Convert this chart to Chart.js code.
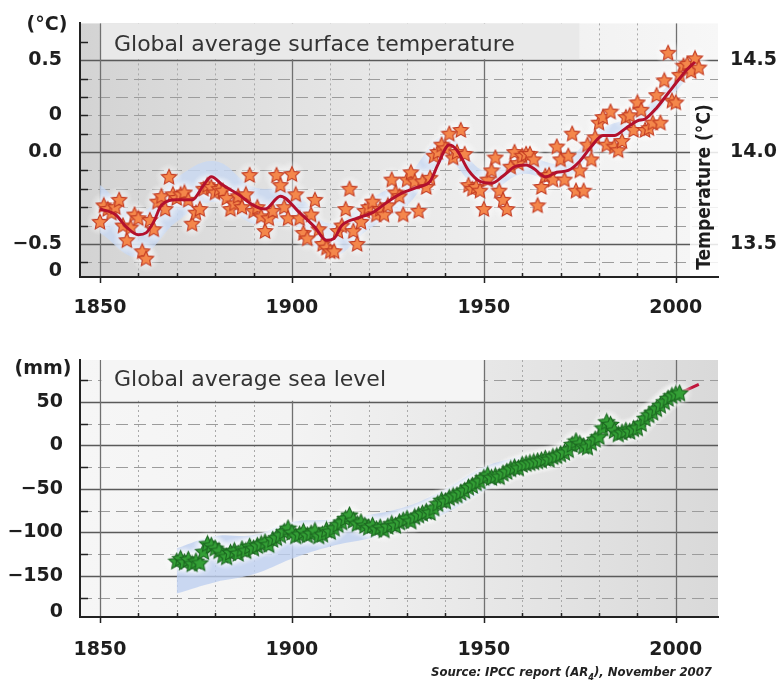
<!DOCTYPE html>
<html>
<head>
<meta charset="utf-8">
<script src="https://cdn.jsdelivr.net/npm/chart.js@4.4.1/dist/chart.umd.min.js"></script>
<style>
  body { margin: 0; background: #fff; width: 781px; height: 689px; position: relative; overflow: hidden; }
  #tempChart { position: absolute; left: 0; top: 0; }
  #seaChart { position: absolute; left: 0; top: 330px; }
  #source { position: absolute; right: 69px; top: 664px; font: italic bold 13px "DejaVu Sans Condensed"; color: #222; white-space: nowrap; }
  #source sub { font-size: 9px; }
</style>
</head>
<body>
<canvas id="tempChart" width="781" height="330"></canvas>
<canvas id="seaChart" width="781" height="359"></canvas>
<div id="source">Source: IPCC report (AR<sub>4</sub>), November 2007</div>
<script>
// global average surface temperature, annual anomaly (°C), 1850 - 2006
const tempAnomaly = [
  -0.38, -0.29, -0.31, -0.33, -0.30, -0.26, -0.40, -0.48, -0.41, -0.34,
  -0.36, -0.54, -0.58, -0.37, -0.42, -0.27, -0.24, -0.31, -0.135, -0.23,
  -0.25, -0.23, -0.22, -0.26, -0.39, -0.33, -0.31, -0.20, -0.18, -0.19,
  -0.22, -0.20, -0.21, -0.25, -0.31, -0.28, -0.24, -0.30, -0.23, -0.125,
  -0.32, -0.30, -0.35, -0.43, -0.36, -0.32, -0.125, -0.18, -0.30, -0.36,
  -0.12, -0.23, -0.36, -0.44, -0.47, -0.34, -0.26, -0.42, -0.50, -0.52,
  -0.54, -0.54, -0.43, -0.40, -0.31, -0.20, -0.43, -0.50, -0.38, -0.32,
  -0.30, -0.27, -0.34, -0.31, -0.34, -0.29, -0.15, -0.22, -0.24, -0.34,
  -0.15, -0.11, -0.16, -0.32, -0.16, -0.19, -0.14, -0.02, 0.00, 0.04,
  0.02, 0.10, -0.03, 0.00, 0.12, -0.01, -0.18, -0.20, -0.19, -0.21,
  -0.31, -0.15, -0.10, -0.03, -0.21, -0.26, -0.31, -0.08, 0.00, -0.06,
  -0.02, -0.01, -0.01, -0.04, -0.29, -0.19, -0.13, -0.125, -0.15, 0.03,
  -0.04, -0.15, -0.02, 0.10, -0.21, -0.10, -0.21, 0.04, -0.04, 0.08,
  0.16, 0.19, 0.04, 0.22, 0.03, 0.01, 0.06, 0.19, 0.20, 0.12,
  0.27, 0.23, 0.12, 0.13, 0.16, 0.31, 0.16, 0.39, 0.54, 0.28,
  0.27, 0.42, 0.47, 0.48, 0.44, 0.51, 0.46
];
const tempYears = tempAnomaly.map((v, i) => 1850 + i);

// smoothed (decadal) curve
const tempSmoothYears = [1850, 1854, 1857, 1860, 1862, 1864, 1866, 1870, 1874, 1877,
  1879, 1882, 1886, 1890, 1893, 1897, 1902, 1906, 1909, 1911,
  1913, 1917, 1921, 1925, 1929, 1933, 1936, 1938, 1941, 1943,
  1946, 1949, 1952, 1955, 1958, 1961, 1963, 1966, 1969, 1972,
  1975, 1978, 1981, 1984, 1987, 1990, 1992, 1995, 1998, 2001,
  2003, 2005];
const tempSmooth = [-0.31, -0.34, -0.41, -0.45, -0.44, -0.38, -0.29, -0.26, -0.26, -0.18,
  -0.135, -0.18, -0.23, -0.29, -0.31, -0.24, -0.33, -0.41, -0.48, -0.47,
  -0.40, -0.36, -0.33, -0.27, -0.22, -0.19, -0.16, -0.07, 0.04, 0.01,
  -0.10, -0.16, -0.17, -0.13, -0.08, -0.07, -0.09, -0.135, -0.11, -0.10,
  -0.05, 0.03, 0.09, 0.09, 0.13, 0.17, 0.18, 0.24, 0.32, 0.40,
  0.45, 0.49];

// uncertainty range
const tempBandYears = [1850, 1860, 1870, 1880, 1890, 1900, 1910, 1920, 1930, 1940, 1950, 1960, 1970, 1980, 1990, 2000, 2005];
const tempBandHigh = [-0.18, -0.33, -0.14, -0.05, -0.19, -0.21, -0.39, -0.26, -0.13, 0.09, -0.10, -0.02, -0.06, 0.12, 0.21, 0.41, 0.53];
const tempBandLow = [-0.44, -0.57, -0.38, -0.27, -0.39, -0.39, -0.57, -0.42, -0.29, -0.05, -0.22, -0.12, -0.16, 0.02, 0.13, 0.33, 0.45];

const tempTickVals = [0.5, 0.2, 0, -0.5, -0.65];
const tempTickText = ['0.5', '0', '0.0', '\u22120.5', '0'];
const tempRightVals = [14.5, 14.0, 13.5];

// global average sea level (mm), 1870 - 2001
const seaLevel = [
  -133, -130, -134, -131, -136, -133, -135, -122, -113, -115,
  -118, -121, -126, -128, -123, -121, -124, -119, -121, -116,
  -118, -115, -113, -111, -114, -108, -106, -103, -99, -95,
  -100, -104, -102, -99, -103, -101, -98, -104, -102, -97,
  -99, -95, -91, -88, -84, -80, -86, -90, -88, -92,
  -94, -92, -96, -94, -97, -93, -90, -92, -88, -86,
  -84, -87, -82, -80, -78, -76, -77, -72, -67, -63,
  -64, -60, -58, -57, -54, -52, -48, -46, -43, -41,
  -37, -34, -37, -35, -36, -32, -30, -27, -25, -26,
  -22, -21, -20, -19, -18, -17, -15, -16, -13, -12,
  -10, -8, -5, 1, 5, 2, -1, -2, 3, 7,
  10, 20, 27, 24, 17, 13, 15, 17, 16, 19,
  20, 25, 31, 35, 38, 42, 46, 50, 54, 57,
  59, 60
];
const seaYears = seaLevel.map((v, i) => 1870 + i);

// satellite altimetry
const satYears = [1993, 1994, 1995, 1996, 1997, 1998, 1999, 2000, 2001, 2002, 2003, 2004, 2005, 2006];
const satLevel = [34, 37, 40, 44, 47, 51, 54, 57, 60, 62, 64, 66, 68, 70];

const seaBandYears = [1870, 1880, 1890, 1900, 1910, 1920, 1930, 1940, 1950, 1960];
const seaBandHigh = [-118, -104, -103, -88, -85, -80, -70, -50, -25, -12];
const seaBandLow = [-170, -157, -148, -130, -116, -107, -95, -78, -52, -32];

const seaTickVals = [50, 0, -50, -100, -150, -191];
const seaTickText = ['50', '0', '\u221250', '\u2212100', '\u2212150', '0'];

const yearTicks = [1850, 1900, 1950, 2000];
const decades = [1860, 1870, 1880, 1890, 1910, 1920, 1930, 1940, 1960, 1970, 1980, 1990];

const pts = (xs, ys) => xs.map((x, i) => ({ x: x, y: ys[i] }));

function makeStar(size, fill, stroke) {
  const c = document.createElement('canvas');
  c.width = size; c.height = size;
  const g = c.getContext('2d');
  const m = size / 2, R = size / 2 - 1, r = R * 0.48;
  g.beginPath();
  for (let i = 0; i < 10; i++) {
    const a = -Math.PI / 2 + i * Math.PI / 5;
    const d = i % 2 === 0 ? R : r;
    g.lineTo(m + d * Math.cos(a), m + 0.5 + d * Math.sin(a));
  }
  g.closePath();
  g.fillStyle = fill;
  g.fill();
  g.lineWidth = 1.1;
  g.strokeStyle = stroke;
  g.stroke();
  return c;
}

function makeGlow(size, color) {
  const c = document.createElement('canvas');
  c.width = size; c.height = size;
  const g = c.getContext('2d');
  const r = size / 2;
  const grd = g.createRadialGradient(r, r, 0, r, r, r);
  grd.addColorStop(0, color);
  grd.addColorStop(0.5, color);
  grd.addColorStop(1, 'rgba(255,255,255,0)');
  g.fillStyle = grd;
  g.fillRect(0, 0, size, size);
  return c;
}

const tickFont = { family: 'DejaVu Sans', size: 19, weight: 'bold' };

// background, grid lines, titles
const frame = {
  id: 'frame',
  beforeDraw(chart, args, o) {
    const { ctx, chartArea: a } = chart;
    const x = chart.scales.x, y = chart.scales.y;
    const hline = (v, from, to) => {
      const py = Math.round(y.getPixelForValue(v)) + 0.5;
      ctx.beginPath(); ctx.moveTo(from, py); ctx.lineTo(to, py); ctx.stroke();
    };
    const vline = (yr, top) => {
      const px = Math.round(x.getPixelForValue(yr)) + 0.5;
      ctx.beginPath(); ctx.moveTo(px, top); ctx.lineTo(px, a.bottom); ctx.stroke();
    };
    ctx.save();
    const g = ctx.createLinearGradient(a.left, 0, a.right, 0);
    o.shade.forEach((c, i) => g.addColorStop(i / (o.shade.length - 1), c));
    ctx.fillStyle = g;
    ctx.fillRect(a.left, a.top, a.right - a.left, a.bottom - a.top);

    ctx.lineWidth = 1;
    ctx.strokeStyle = '#a9a9a9';
    ctx.setLineDash([2, 3]);
    decades.forEach(d => vline(d, a.top));

    ctx.strokeStyle = '#9c9c9c';
    ctx.setLineDash([12, 6]);
    o.minor.forEach(v => hline(v, a.left, a.right));

    ctx.setLineDash([]);
    ctx.strokeStyle = '#5a5a5a';
    ctx.lineWidth = 1.4;
    o.major.forEach(v => hline(v, a.left, a.right));
    ctx.strokeStyle = '#707070';
    ctx.lineWidth = 1.3;
    yearTicks.forEach(d => vline(d, a.top));

    // title box
    const bx0 = x.getPixelForValue(1850) + 1.5;
    const bx1 = x.getPixelForValue(o.boxEnd) - 0.5;
    const by1 = y.getPixelForValue(o.boxBottom) - 1;
    ctx.fillStyle = o.boxFill;
    ctx.fillRect(bx0, a.top, bx1 - bx0, by1 - a.top);
    ctx.fillStyle = '#333';
    ctx.font = '22px "DejaVu Sans"';
    ctx.textBaseline = 'middle';
    ctx.textAlign = 'left';
    ctx.fillText(o.title, 114, a.top + o.titleDy);

    // unit label
    ctx.fillStyle = '#1e1e1e';
    ctx.font = 'bold 19px "DejaVu Sans"';
    ctx.textAlign = 'center';
    ctx.fillText(o.unit, o.unitX, a.top + o.unitDy);

    if (o.sideTitle) {
      const top = y.getPixelForValue(0.28);
      ctx.fillStyle = 'rgba(255,255,255,0.85)';
      ctx.fillRect(a.right - 28, top, 28, a.bottom - top - 1);
      ctx.translate(a.right - 13, y.getPixelForValue(-0.19));
      ctx.rotate(-Math.PI / 2);
      ctx.fillStyle = '#1e1e1e';
      ctx.textAlign = 'center';
      ctx.font = 'bold 19px "DejaVu Sans Condensed"';
      ctx.fillText(o.sideTitle, 0, 0);
    }
    ctx.restore();
  },
  afterDraw(chart, args, o) {
    const { ctx, chartArea: a } = chart;
    const x = chart.scales.x, y = chart.scales.y;
    ctx.save();
    ctx.strokeStyle = '#222';
    ctx.lineWidth = 1.5;
    o.ticks.forEach(v => {
      const py = Math.round(y.getPixelForValue(v)) + 0.5;
      ctx.beginPath(); ctx.moveTo(a.left, py); ctx.lineTo(a.left + 8, py); ctx.stroke();
    });
    yearTicks.forEach(d => {
      const px = Math.round(x.getPixelForValue(d)) + 0.5;
      ctx.beginPath(); ctx.moveTo(px, a.bottom); ctx.lineTo(px, a.bottom + 6); ctx.stroke();
    });
    decades.forEach(d => {
      const px = Math.round(x.getPixelForValue(d)) + 0.5;
      ctx.beginPath(); ctx.moveTo(px, a.bottom - 4); ctx.lineTo(px, a.bottom); ctx.stroke();
    });
    ctx.restore();
  }
};

function xAxis(h, pad) {
  return {
    type: 'linear', min: 1844.8, max: 2011,
    afterBuildTicks: s => { s.ticks = yearTicks.map(v => ({ value: v })); },
    afterFit: s => { s.height = h; },
    grid: { display: false },
    border: { color: '#222', width: 2 },
    ticks: { font: tickFont, color: '#1e1e1e', padding: pad, maxRotation: 0, autoSkip: false, callback: v => String(v) }
  };
}

function leftAxis(min, max, vals, text, pad) {
  return {
    type: 'linear', position: 'left', min: min, max: max,
    afterBuildTicks: s => { s.ticks = vals.map(v => ({ value: v })); },
    afterFit: s => { s.width = 80; },
    grid: { display: false },
    border: { color: '#222', width: 2 },
    ticks: { font: tickFont, color: '#1e1e1e', padding: pad, autoSkip: false, callback: (v, i) => text[i] }
  };
}

const orangeStar = makeStar(18, '#f4874b', '#c23a22');
const greenStar = makeStar(19, '#34a036', '#1c6621');
const whiteGlow = makeGlow(28, 'rgba(255,255,255,0.4)');

new Chart(document.getElementById('tempChart'), {
  type: 'line',
  data: {
    datasets: [
      { data: pts(tempBandYears, tempBandHigh), fill: '+1', backgroundColor: 'rgba(200,216,242,0.8)', borderWidth: 0, pointRadius: 0, tension: 0.4, order: 4 },
      { data: pts(tempBandYears, tempBandLow), fill: false, borderWidth: 0, pointRadius: 0, tension: 0.4, order: 4 },
      { data: pts(tempYears, tempAnomaly), showLine: false, pointStyle: whiteGlow, pointRadius: 6, order: 3 },
      { data: pts(tempYears, tempAnomaly), showLine: false, pointStyle: orangeStar, pointRadius: 6, order: 2 },
      { data: pts(tempSmoothYears, tempSmooth), borderColor: '#b3102d', borderWidth: 3, pointRadius: 0, cubicInterpolationMode: 'monotone', order: 1 }
    ]
  },
  options: {
    responsive: false,
    animation: false,
    devicePixelRatio: 1,
    events: [],
    layout: { padding: { top: 20, left: 0, right: 0, bottom: 0 } },
    scales: {
      x: xAxis(53, 12),
      y: leftAxis(-0.68, 0.70, tempTickVals, tempTickText, 10),
      y2: {
        type: 'linear', position: 'right', min: 13.32, max: 14.70,
        afterBuildTicks: s => { s.ticks = tempRightVals.map(v => ({ value: v })); },
        afterFit: s => { s.width = 63; },
        grid: { display: false, drawTicks: false },
        border: { display: false },
        ticks: { font: tickFont, color: '#1e1e1e', padding: 12, autoSkip: false, callback: v => v.toFixed(1) }
      }
    },
    plugins: {
      legend: { display: false },
      tooltip: { enabled: false },
      frame: {
        shade: ['#d3d3d3', '#e2e2e2', '#efefef', '#f7f7f7'],
        minor: [0.4, 0.3, 0.2, 0.1, -0.1, -0.2, -0.3, -0.4, -0.6],
        major: [0.5, 0, -0.5],
        ticks: [0.6, 0.4, 0.3, 0.2, 0.1, -0.1, -0.2, -0.3, -0.4, -0.6],
        boxEnd: 1975, boxBottom: 0.5, boxFill: '#e9e9e9',
        title: 'Global average surface temperature', titleDy: 22,
        unit: '(\u00b0C)', unitX: 47, unitDy: 2,
        sideTitle: 'Temperature (\u00b0C)'
      }
    }
  },
  plugins: [frame]
});

new Chart(document.getElementById('seaChart'), {
  type: 'line',
  data: {
    datasets: [
      { data: pts(seaBandYears, seaBandHigh), fill: '+1', backgroundColor: 'rgba(190,208,240,0.8)', borderWidth: 0, pointRadius: 0, tension: 0.4, order: 5 },
      { data: pts(seaBandYears, seaBandLow), fill: false, borderWidth: 0, pointRadius: 0, tension: 0.4, order: 5 },
      { data: pts(satYears, satLevel), borderColor: '#c0143a', borderWidth: 3, pointRadius: 0, order: 4 },
      { data: pts(seaYears, seaLevel), showLine: false, pointStyle: whiteGlow, pointRadius: 6, order: 3 },
      { data: pts(seaYears, seaLevel), showLine: false, pointStyle: greenStar, pointRadius: 6, order: 2 }
    ]
  },
  options: {
    responsive: false,
    animation: false,
    devicePixelRatio: 1,
    events: [],
    layout: { padding: { top: 30, left: 0, right: 63, bottom: 0 } },
    scales: {
      x: xAxis(72, 14),
      y: leftAxis(-197, 98, seaTickVals, seaTickText, 9)
    },
    plugins: {
      legend: { display: false },
      tooltip: { enabled: false },
      frame: {
        shade: ['#f6f6f6', '#f3f3f3', '#e6e6e6', '#d9d9d9'],
        minor: [75, 25, -25, -75, -125, -175],
        major: [50, 0, -50, -100, -150],
        ticks: [75, 25, -25, -75, -125, -175],
        boxEnd: 1950, boxBottom: 50, boxFill: '#f5f5f5',
        title: 'Global average sea level', titleDy: 20,
        unit: '(mm)', unitX: 43, unitDy: 9
      }
    }
  },
  plugins: [frame]
});
</script>
</body>
</html>
